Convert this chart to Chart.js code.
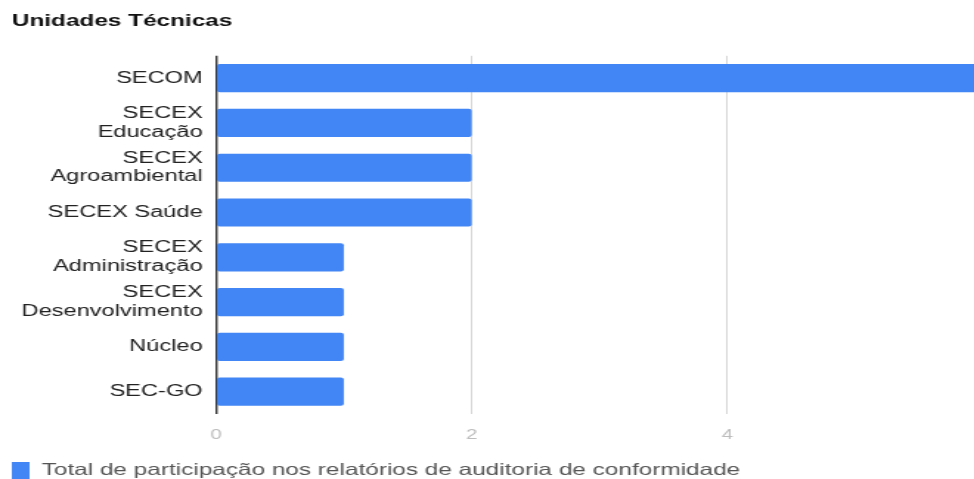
<!DOCTYPE html>
<html lang="pt">
<head>
<meta charset="utf-8">
<title>Unidades Técnicas</title>
<script src="https://cdn.jsdelivr.net/npm/chart.js@4"></script>
<style>
  html, body { margin: 0; padding: 0; background: #fff; overflow: hidden; }
  #wrap { width: 974px; height: 479px; overflow: hidden; }
</style>
</head>
<body>
<div id="wrap">
  <!-- the reference is stretched wide, so the canvas is drawn narrow and widened by css -->
  <canvas id="chart" width="683" height="489" style="display:block;width:1008px;height:489px"></canvas>
</div>
<script>
  const titleText = "Unidades Técnicas";
  const seriesLabel = "Total de participação nos relatórios de auditoria de conformidade";
  const categories = [
    "SECOM",
    ["SECEX", "Educação"],
    ["SECEX", "Agroambiental"],
    "SECEX Saúde",
    ["SECEX", "Administração"],
    ["SECEX", "Desenvolvimento"],
    "Núcleo",
    "SEC-GO",
  ];
  const participacoes = [6, 2, 2, 2, 1, 1, 1, 1];
  const xMax = 6;
  const xStep = 2;

  const font = "'Liberation Sans', Arial, Helvetica, sans-serif";
  const blue = "#4285f4";

  new Chart(document.getElementById("chart"), {
    type: "bar",
    data: {
      labels: categories,
      datasets: [{
        label: seriesLabel,
        data: participacoes,
        backgroundColor: blue,
        borderRadius: 2,
        borderSkipped: false,
        barPercentage: 0.63,
        categoryPercentage: 1,
      }],
    },
    options: {
      indexAxis: "y",
      responsive: false,
      devicePixelRatio: 1,
      animation: false,
      layout: { padding: { left: 8, right: 0, top: 0, bottom: 0 } },
      plugins: {
        tooltip: { enabled: false },
        title: {
          display: true,
          text: titleText,
          align: "start",
          color: "#111",
          font: { family: font, size: 16.5, weight: "bold", lineHeight: 1.2 },
          padding: { top: 12, bottom: 24 },
        },
        legend: {
          display: true,
          position: "bottom",
          align: "start",
          labels: {
            boxWidth: 12,
            boxHeight: 17,
            padding: 0,
            color: "#555",
            font: { family: font, size: 16.5 },
          },
        },
      },
      scales: {
        x: {
          min: 0,
          max: xMax,
          ticks: {
            stepSize: xStep,
            color: "#bdbdbd",
            padding: 13,
            font: { family: font, size: 14 },
          },
          grid: {
            drawTicks: false,
            color: (ctx) => (ctx.tick && ctx.tick.value === 0 ? "#333" : "#d6d6d6"),
            lineWidth: (ctx) => (ctx.tick && ctx.tick.value === 0 ? 1.4 : 1),
          },
          border: { display: false },
          afterFit: (scale) => { scale.height = 48; },
        },
        y: {
          grid: { display: false, drawTicks: false },
          border: { display: false },
          ticks: {
            color: "#222",
            padding: 9,
            font: { family: font, size: 16, lineHeight: 1.15 },
          },
          afterFit: (scale) => { scale.width = 138.3; },
        },
      },
    },
  });
</script>
</body>
</html>
